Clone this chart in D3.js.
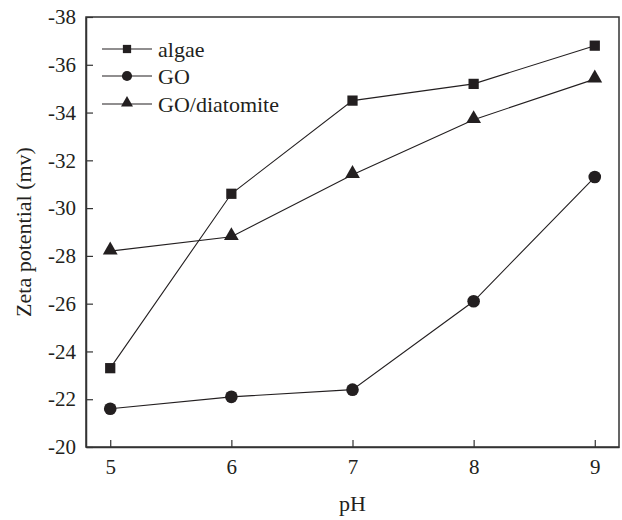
<!DOCTYPE html>
<html>
<head>
<meta charset="utf-8">
<script src="https://cdn.jsdelivr.net/npm/d3@7"></script>
<style>
body { margin: 0; background: #fff; }
svg { display: block; }
</style>
</head>
<body>
<svg id="chart" width="622" height="520"></svg>
<script>
const pH = [5, 6, 7, 8, 9];
const algae = [-23.3, -30.6, -34.5, -35.2, -36.8];
const go = [-21.6, -22.1, -22.4, -26.1, -31.3];
const goDiatomite = [-28.2, -28.8, -31.4, -33.7, -35.4];
const seriesNames = ["algae", "GO", "GO/diatomite"];
const seriesSymbols = ["square", "circle", "triangle"];
const yTicks = [-20, -22, -24, -26, -28, -30, -32, -34, -36, -38];
const xTicks = [5, 6, 7, 8, 9];

const svg = d3.select("#chart");
const m = { left: 86, top: 17, right: 619, bottom: 447 };
const font = "'Liberation Serif', 'Times New Roman', serif";
const ink = "#231f20";

const x = d3.scaleLinear().domain([4.8, 9.2]).range([m.left, m.right]);
const y = d3.scaleLinear().domain([-20, -38]).range([m.bottom, m.top]);

// frame
svg.append("rect")
  .attr("x", m.left).attr("y", m.top)
  .attr("width", m.right - m.left).attr("height", m.bottom - m.top)
  .attr("fill", "none").attr("stroke", "#333").attr("stroke-width", 1.5);

// axes
const xAxis = svg.append("g").attr("transform", `translate(0,${m.bottom})`)
  .call(d3.axisBottom(x).tickValues(xTicks).tickSizeInner(-7).tickSizeOuter(0).tickPadding(12).tickFormat(d3.format("d")));
const yAxis = svg.append("g").attr("transform", `translate(${m.left},0)`)
  .call(d3.axisLeft(y).tickValues(yTicks).tickSizeInner(-7).tickSizeOuter(0).tickPadding(10).tickFormat(d => d3.format("d")(d).replace("−", "-")));
[xAxis, yAxis].forEach(a => {
  a.select(".domain").attr("stroke", "#333").attr("stroke-width", 1.5);
  a.selectAll(".tick line").attr("stroke", "#333").attr("stroke-width", 1.2);
  a.selectAll(".tick text").attr("font-family", font).attr("font-size", 21).attr("fill", ink);
});

// axis titles
svg.append("text").attr("x", x(7)).attr("y", 511).attr("text-anchor", "middle")
  .attr("font-family", font).attr("font-size", 22).attr("fill", ink).text("pH");
svg.append("text").attr("transform", `translate(31,${(m.top + m.bottom) / 2}) rotate(-90)`)
  .attr("text-anchor", "middle")
  .attr("font-family", font).attr("font-size", 22).attr("fill", ink).text("Zeta potential (mv)");

const symbolType = { square: d3.symbolSquare, circle: d3.symbolCircle, triangle: d3.symbolTriangle };
const symbolSize = { square: 105, circle: 125, triangle: 95 };
const symbolOffset = { square: 0, circle: 0, triangle: -1 };

const allSeries = [algae, go, goDiatomite];
const line = d3.line().x((d, i) => x(pH[i])).y(d => y(d));

allSeries.forEach((vals, si) => {
  const sym = seriesSymbols[si];
  svg.append("path").datum(vals).attr("d", line)
    .attr("fill", "none").attr("stroke", ink).attr("stroke-width", 1.1);
  svg.selectAll(null).data(vals).enter().append("path")
    .attr("transform", (d, i) => `translate(${x(pH[i])},${y(d) + symbolOffset[sym]})`)
    .attr("d", d3.symbol().type(symbolType[sym]).size(symbolSize[sym]))
    .attr("fill", ink);
});

// legend
const legY = [49, 76, 104];
seriesNames.forEach((name, i) => {
  const sym = seriesSymbols[i];
  const g = svg.append("g");
  g.append("line").attr("x1", 102).attr("x2", 152).attr("y1", legY[i]).attr("y2", legY[i])
    .attr("stroke", ink).attr("stroke-width", 1.1);
  g.append("path").attr("transform", `translate(127,${legY[i] + symbolOffset[sym]})`)
    .attr("d", d3.symbol().type(symbolType[sym]).size(symbolSize[sym] * 0.65)).attr("fill", ink);
  g.append("text").attr("x", 158).attr("y", legY[i]).attr("dy", "0.35em")
    .attr("font-family", font).attr("font-size", 22).attr("fill", ink).text(name);
});
</script>
</body>
</html>
